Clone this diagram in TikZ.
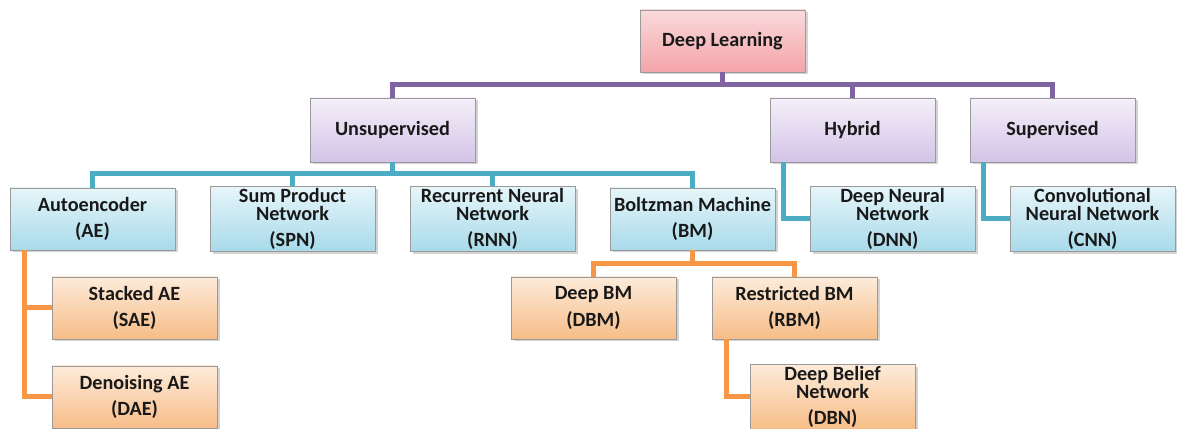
\documentclass[tikz,border=0pt]{standalone}
\usepackage{fontspec}
\setmainfont{Carlito}
\usepackage{tikz}
\usetikzlibrary{shadows}

\definecolor{linkPurple}{HTML}{8064A2}
\definecolor{linkBlue}{HTML}{4BACC6}
\definecolor{linkOrange}{HTML}{F79646}
\definecolor{boxGray}{HTML}{9A9A9A}
\definecolor{pinkTop}{HTML}{FADADC}
\definecolor{pinkBot}{HTML}{F3A4A9}
\definecolor{purpleTop}{HTML}{F4EFF9}
\definecolor{purpleBot}{HTML}{D4C4E8}
\definecolor{blueTop}{HTML}{E6F5FA}
\definecolor{blueBot}{HTML}{A8DAEA}
\definecolor{orangeTop}{HTML}{FDEBD9}
\definecolor{orangeBot}{HTML}{F7BD88}

\tikzset{
  diagBox/.style={draw=boxGray, line width=0.4pt, minimum width=3.3cm,
    minimum height=1.24cm, inner sep=1pt, align=center, text=black!90,
    font={\fontsize{11.5}{10}\selectfont\bfseries\lineskiplimit=-20pt},
    drop shadow={shadow xshift=0.5mm, shadow yshift=-0.5mm, opacity=0.35}},
  pinkBox/.style={diagBox, top color=pinkTop, bottom color=pinkBot},
  purpleBox/.style={diagBox, top color=purpleTop, bottom color=purpleBot, minimum height=1.28cm},
  blueBox/.style={diagBox, top color=blueTop, bottom color=blueBot},
  orangeBox/.style={diagBox, top color=orangeTop, bottom color=orangeBot},
  purpleLink/.style={draw=linkPurple, line width=1mm},
  blueLink/.style={draw=linkBlue, line width=1mm},
  orangeLink/.style={draw=linkOrange, line width=1mm},
}

\begin{document}
\begin{tikzpicture}
\useasboundingbox (0,0) rectangle (23.54,-8.58);

\node[pinkBox] (DeepLearning) at (14.45,-0.82) {Deep Learning};

\node[purpleBox] (Unsupervised) at (7.85,-2.60) {Unsupervised};
\node[purpleBox] (Hybrid) at (17.05,-2.60) {Hybrid};
\node[purpleBox] (Supervised) at (21.05,-2.60) {Supervised};

\node[blueBox] (Autoencoder) at (1.85,-4.38) {Autoencoder\\[5pt](AE)};
\node[blueBox] (SumProduct) at (5.85,-4.38) {Sum Product\\Network\\[5pt](SPN)};
\node[blueBox] (RecurrentNet) at (9.85,-4.38) {Recurrent Neural\\Network\\[5pt](RNN)};
\node[blueBox] (Boltzman) at (13.85,-4.38) {Boltzman Machine\\[5pt](BM)};
\node[blueBox] (DeepNet) at (17.85,-4.38) {Deep Neural\\Network\\[5pt](DNN)};
\node[blueBox] (ConvNet) at (21.85,-4.38) {Convolutional\\Neural Network\\[5pt](CNN)};

\node[orangeBox] (StackedAE) at (2.69,-6.16) {Stacked AE\\[5pt](SAE)};
\node[orangeBox] (DeepBM) at (11.87,-6.16) {Deep BM\\[5pt](DBM)};
\node[orangeBox] (RestrictedBM) at (15.89,-6.16) {Restricted BM\\[5pt](RBM)};

\node[orangeBox] (DenoisingAE) at (2.69,-7.94) {Denoising AE\\[5pt](DAE)};
\node[orangeBox] (DeepBelief) at (16.65,-7.94) {Deep Belief\\Network\\[5pt](DBN)};

\coordinate (purpleBus) at (0,-1.70);
\coordinate (blueBus) at (0,-3.48);
\coordinate (orangeBus) at (0,-5.28);

\foreach \kid in {Unsupervised,Hybrid,Supervised}
  \draw[purpleLink] (DeepLearning.south) -- (DeepLearning.south |- purpleBus) -| (\kid.north);

\foreach \kid in {Autoencoder,SumProduct,RecurrentNet,Boltzman}
  \draw[blueLink] (Unsupervised.south) -- (Unsupervised.south |- blueBus) -| (\kid.north);
\draw[blueLink] ([xshift=0.28cm]Hybrid.south west) |- (DeepNet.west);
\draw[blueLink] ([xshift=0.28cm]Supervised.south west) |- (ConvNet.west);

\foreach \kid in {DeepBM,RestrictedBM}
  \draw[orangeLink] (Boltzman.south) -- (Boltzman.south |- orangeBus) -| (\kid.north);
\draw[orangeLink] ([xshift=0.3cm]Autoencoder.south west) |- (StackedAE.west);
\draw[orangeLink] ([xshift=0.3cm]Autoencoder.south west) |- (DenoisingAE.west);
\draw[orangeLink] ([xshift=0.3cm]RestrictedBM.south west) |- (DeepBelief.west);
\end{tikzpicture}
\end{document}
